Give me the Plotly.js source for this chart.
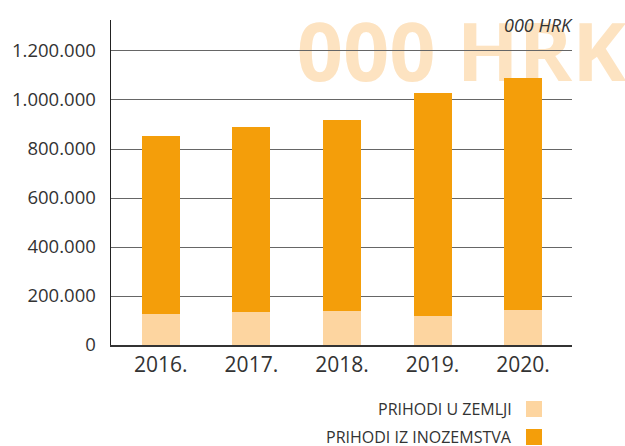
<!DOCTYPE html>
<html>
<head>
<meta charset="utf-8">
<script src="https://cdn.plot.ly/plotly-3.0.1.min.js"></script>
<style>html,body{margin:0;padding:0;background:#fff;}#chart{width:625px;height:446px;}</style>
</head>
<body>
<div id="chart"></div>
<script>
var years = ["2016.", "2017.", "2018.", "2019.", "2020."];
var seriesNames = ["PRIHODI U ZEMLJI", "PRIHODI IZ INOZEMSTVA"];
var domestic = [127000, 135000, 139000, 118000, 143000];
var foreign = [727000, 755000, 779000, 911000, 947000];
var yTickVals = [0, 200000, 400000, 600000, 800000, 1000000, 1200000];
var yTickText = ["0", "200.000", "400.000", "600.000", "800.000", "1.000.000", "1.200.000"];
var unitLabel = "000 HRK";

var colors = ["#FDD5A0", "#F49E0A"];
var font = "Open Sans, sans-serif";

var traces = [
  {type: "bar", x: years, y: domestic, name: seriesNames[0], marker: {color: colors[0]}, width: 0.42, hoverinfo: "skip"},
  {type: "bar", x: years, y: foreign, name: seriesNames[1], marker: {color: colors[1]}, width: 0.42, hoverinfo: "skip"}
];

var shapes = [
  {type: "rect", xref: "paper", yref: "paper", layer: "below",
   x0: 0.36, x1: 1.16, y0: 0.766, y1: 1.016, line: {width: 0}, fillcolor: "rgba(0,0,0,0)",
   label: {text: unitLabel, textposition: "middle center",
           font: {family: font, size: 81, color: "#FDE3C1", weight: 700}}}
];
var annotations = [
  {xref: "paper", yref: "paper", x: 1.0, y: 1.0, xanchor: "right", yanchor: "middle", yshift: -5, xshift: 3,
   text: unitLabel, showarrow: false, font: {family: font, size: 18, color: "#333", style: "italic"}}
];
var legendY = [409, 437];
for (var i = 0; i < seriesNames.length; i++) {
  var yc = 1 - (legendY[i] - 20) / 325;
  var h = 8 / 325;
  shapes.push({type: "rect", xref: "paper", yref: "paper",
    x0: (526 - 111) / 461, x1: (542 - 111) / 461, y0: yc - h, y1: yc + h,
    line: {width: 0}, fillcolor: colors[i]});
  annotations.push({xref: "paper", yref: "paper", x: (514 - 111) / 461, y: yc, xanchor: "right", yanchor: "middle",
    text: seriesNames[i], showarrow: false, font: {family: font, size: 16, color: "#333"}});
}

var layout = {
  width: 625, height: 446,
  margin: {l: 111, r: 53, t: 20, b: 101},
  paper_bgcolor: "#fff", plot_bgcolor: "rgba(0,0,0,0)",
  barmode: "stack",
  showlegend: false,
  xaxis: {type: "category", range: [-0.55, 4.54], showgrid: false, showline: true, linecolor: "#333", linewidth: 1.5,
          ticks: "", tickfont: {family: font, size: 21, color: "#333"}, fixedrange: true},
  yaxis: {range: [0, 1326500], tickvals: yTickVals, ticktext: yTickText,
          showgrid: true, gridcolor: "#666", gridwidth: 1, zeroline: false,
          showline: true, linecolor: "#222", linewidth: 1.5, ticks: "",
          ticklabelstandoff: 10,
          tickfont: {family: font, size: 18.5, color: "#333"}, fixedrange: true},
  shapes: shapes,
  annotations: annotations
};

Plotly.newPlot("chart", traces, layout, {displayModeBar: false, staticPlot: true});
</script>
</body>
</html>
